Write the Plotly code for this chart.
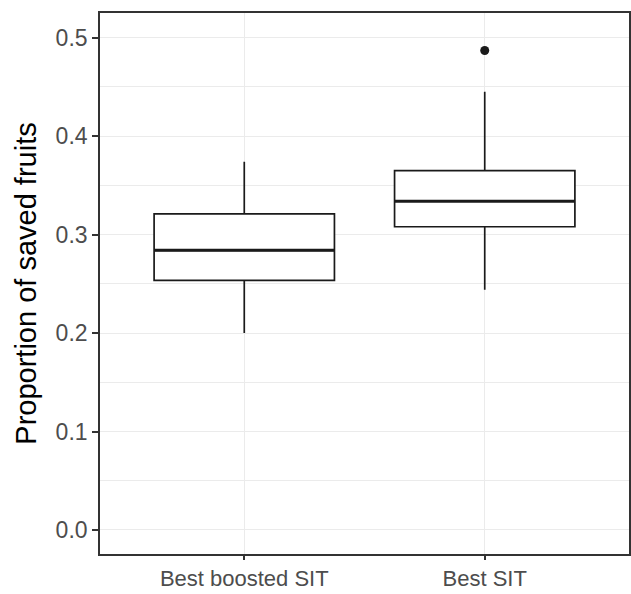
import plotly.graph_objects as go

categories = ["Best boosted SIT", "Best SIT"]
q1 = [0.2535, 0.308]
median = [0.284, 0.334]
q3 = [0.321, 0.365]
lower_whisker = [0.200, 0.244]
upper_whisker = [0.374, 0.445]
outlier_cat = ["Best SIT"]
outlier_val = [0.487]
y_ticks = [0.0, 0.1, 0.2, 0.3, 0.4, 0.5]
y_ticklabels = ["0.0", "0.1", "0.2", "0.3", "0.4", "0.5"]

box_width = 0.75
xpos = [i + 1 for i in range(len(categories))]

fig = go.Figure()
for i, cat in enumerate(categories):
    fig.add_trace(go.Box(
        x=[xpos[i]], q1=[q1[i]], median=[median[i]], q3=[q3[i]],
        lowerfence=[lower_whisker[i]], upperfence=[upper_whisker[i]],
        width=box_width, whiskerwidth=0, fillcolor="white",
        line=dict(color="#1a1a1a", width=1.7), boxpoints=False,
        showlegend=False, hoverinfo="skip",
    ))
    fig.add_trace(go.Scatter(
        x=[xpos[i] - box_width / 2, xpos[i] + box_width / 2],
        y=[median[i], median[i]], mode="lines",
        line=dict(color="#1a1a1a", width=3), showlegend=False, hoverinfo="skip",
    ))

fig.add_trace(go.Scatter(
    x=[xpos[categories.index(c)] for c in outlier_cat], y=outlier_val,
    mode="markers", marker=dict(color="#1a1a1a", size=9),
    showlegend=False, hoverinfo="skip",
))

axis_common = dict(
    showline=True, linecolor="#333333", linewidth=1.6, mirror=True,
    ticks="outside", ticklen=6, tickcolor="#333333", tickwidth=1.6,
    gridcolor="#EBEBEB", gridwidth=1.3, zeroline=False, automargin=False,
    tickfont=dict(family="Liberation Sans, Arial, sans-serif", size=23, color="#4D4D4D"),
)

fig.update_layout(
    width=631, height=594,
    margin=dict(l=100, r=2, t=13, b=40),
    plot_bgcolor="white", paper_bgcolor="white",
    font=dict(family="Liberation Sans, Arial, sans-serif"),
    xaxis=dict(range=[0.4, 2.6], tickvals=xpos, ticktext=categories, **axis_common),
    yaxis=dict(range=[-0.0244, 0.5251], tickvals=y_ticks, ticktext=y_ticklabels,
               minor=dict(dtick=0.05, tick0=0, showgrid=True, gridcolor="#EBEBEB", gridwidth=1.3, ticks=""),
               title=dict(text="Proportion of saved fruits", font=dict(size=29, color="black"), standoff=10),
               **axis_common),
)
fig.update_xaxes(tickfont=dict(size=22), ticklen=4)

fig.write_html("out.html", config={"displayModeBar": False},
               post_script="document.body.style.margin='0';document.body.style.overflow='hidden';")
